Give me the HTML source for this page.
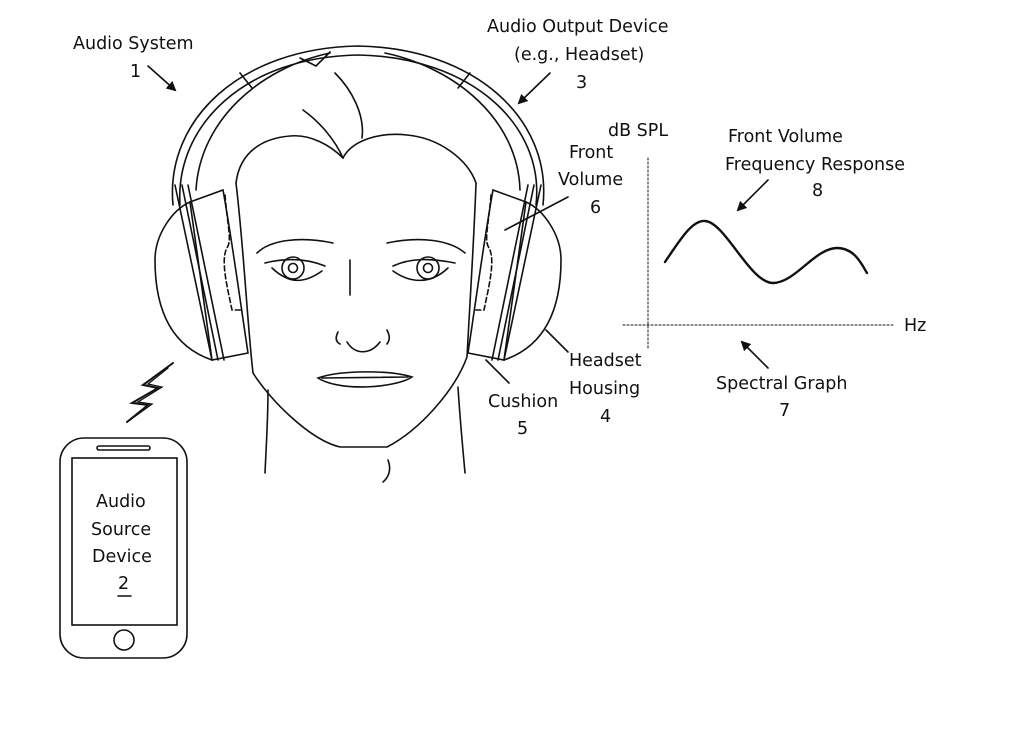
<!DOCTYPE html>
<html><head><style>
body{margin:0;background:#fff}
svg{display:block}
text{font-family:"DejaVu Sans","Liberation Sans",sans-serif;font-size:17.5px;fill:#111}
</style></head><body>
<svg width="1024" height="742" viewBox="0 0 1024 742" xmlns="http://www.w3.org/2000/svg">
<defs><marker id="a" markerWidth="10" markerHeight="10" refX="8" refY="5" orient="auto" markerUnits="userSpaceOnUse"><path d="M0,0 L10,5 L0,10 z" fill="#111"/></marker></defs>
<g fill="none" stroke="#111" stroke-width="1.6" stroke-linecap="round">
<path d="M173,205 C165,120 240,48 358,46 C476,48 552,120 543,205"/>
<path d="M180,205 C175,125 245,57 358,55 C471,57 545,125 536,205"/>
<path d="M196,190 C200,120 260,68 330,53 M385,53 C456,68 518,120 520,190"/>
<path d="M240,73 L252,88 M470,73 L458,88"/>
<path d="M300,58 L316,66 L330,52"/>
<path d="M190,202 C172,210 155,235 155,260 C155,305 168,345 212,360"/>
<path d="M190,202 L223,190 C232,240 240,300 248,353 L212,360 Z"/>
<path d="M175,185 L212,360 M182,185 L218,360 M188,185 L224,360"/>
<path d="M225,195 C228,230 232,240 227,248 C220,260 228,290 232,310 L241,310" stroke-dasharray="5,3"/>
<path d="M526,202 C544,210 561,235 561,260 C561,305 548,345 504,360"/>
<path d="M526,202 L493,190 C484,240 476,300 468,353 L504,360 Z"/>
<path d="M541,185 L504,360 M534,185 L498,360 M528,185 L492,360"/>
<path d="M491,195 C488,230 484,240 489,248 C496,260 488,290 484,310 L475,310" stroke-dasharray="5,3"/>
<path d="M236,183 C240,150 265,138 290,136 C310,134 330,145 343,158 C352,140 380,132 407,135 C440,138 468,160 476,183"/>
<path d="M236,183 C244,250 247,320 253,373 C270,400 310,440 340,447 L387,447 C420,430 455,390 467,357 C470,300 474,240 476,183"/>
<path d="M303,110 C320,122 335,140 343,158"/>
<path d="M335,73 C352,90 365,115 362,138"/>
<path d="M268,390 C268,420 266,450 265,473 M458,387 C460,420 463,450 465,473 M388,460 C392,470 388,478 383,482"/>
<path d="M257,253 C270,240 300,236 333,243 M387,243 C420,236 450,240 465,253"/>
<path d="M265,263 C285,258 305,258 325,266 M272,268 C290,285 305,283 322,271"/>
<path d="M393,266 C410,258 430,258 455,263 M393,271 C410,283 430,285 448,268"/>
<circle cx="293" cy="268" r="11"/><circle cx="293" cy="268" r="4.5"/>
<circle cx="428" cy="268" r="11"/><circle cx="428" cy="268" r="4.5"/>
<path d="M350,260 L350,295"/>
<path d="M338,332 C335,338 336,342 340,344 M347,342 C355,355 370,355 380,342 M387,330 C390,336 390,340 387,344"/>
<path d="M318,378 C340,370 390,370 412,377 C395,388 340,392 318,378 Z M322,378 L408,377"/>
<path d="M505,230 L568,197"/>
<path d="M546,330 L568,352"/>
<path d="M486,360 L509,383"/>
<path d="M148,66 L175,90" marker-end="url(#a)"/>
<path d="M550,73 L519,103" marker-end="url(#a)"/>
<path d="M768,180 L738,210" marker-end="url(#a)"/>
<path d="M768,368 L742,342" marker-end="url(#a)"/>
<path d="M648,158 L648,350 M623,325 L893,325" stroke-dasharray="2,2" stroke-width="1"/>
<path d="M665,262 C680,240 692,220 705,221 C725,222 750,283 773,283 C795,283 815,248 837,248 C855,248 862,265 867,273" stroke-width="2.4"/>
<path d="M173,363 L143,385 L158,388 L132,403 L148,405 L127,422" stroke-width="2"/>
<path d="M168,368 L148,384 L162,387 L138,402 L152,404 L130,420" stroke-width="1.3"/>
<rect x="60" y="438" width="127" height="220" rx="24"/>
<rect x="72" y="458" width="105" height="167"/>
<rect x="97" y="446" width="53" height="4" rx="2"/>
<circle cx="124" cy="640" r="10"/>
<path d="M118,596 L131,596"/>
</g>
<text x="73" y="49">Audio System</text>
<text x="130" y="77">1</text>
<text x="487" y="32">Audio Output Device</text>
<text x="514" y="60">(e.g., Headset)</text>
<text x="576" y="88">3</text>
<text x="569" y="158">Front</text>
<text x="558" y="185">Volume</text>
<text x="590" y="213">6</text>
<text x="608" y="136">dB SPL</text>
<text x="728" y="142">Front Volume</text>
<text x="725" y="170">Frequency Response</text>
<text x="812" y="196">8</text>
<text x="904" y="331">Hz</text>
<text x="569" y="366">Headset</text>
<text x="569" y="394">Housing</text>
<text x="600" y="422">4</text>
<text x="488" y="407">Cushion</text>
<text x="517" y="434">5</text>
<text x="716" y="389">Spectral Graph</text>
<text x="779" y="416">7</text>
<text x="96" y="507">Audio</text>
<text x="91" y="535">Source</text>
<text x="92" y="562">Device</text>
<text x="118" y="589">2</text>
</svg>
</body></html>
